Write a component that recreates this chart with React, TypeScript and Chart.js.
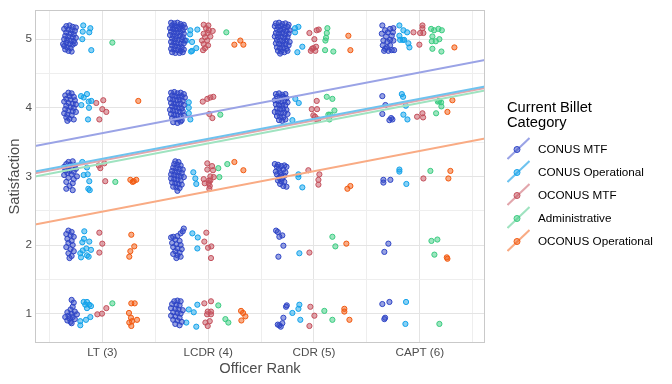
import React, { useEffect, useRef } from "react";
import { Chart, registerables } from "chart.js";

Chart.register(...registerables);

// ---------- data ----------
const rankValues = [3, 4, 5, 6];
const rankLabels = ["LT (3)", "LCDR (4)", "CDR (5)", "CAPT (6)"];
const xGridBreaks = [2.5, 3, 3.5, 4, 4.5, 5, 5.5, 6, 6.5];
const yGridBreaks = [1, 1.5, 2, 2.5, 3, 3.5, 4, 4.5, 5];
const xRange = [2.364, 6.616];
const yRange = [0.572, 5.425];

const categoryNames = ["CONUS MTF", "CONUS Operational", "OCONUS MTF", "Administrative", "OCONUS Operational"];
const pointColors = ["#2f45c6", "#12a2ea", "#c4505c", "#3acb80", "#f25a10"];
const lineColors = ["#9aa3e6", "#6ec3ef", "#e2a6ac", "#9fe3c0", "#f9ab84"];

type Pt = [number, number];

const conusMtf: Pt[] = [
  // LT
  [2.66,5.19],[2.69,5.20],[2.72,5.18],[2.75,5.17],[2.64,5.15],[2.68,5.14],[2.71,5.13],[2.74,5.12],[2.66,5.10],[2.70,5.08],[2.73,5.07],[2.65,5.05],[2.68,5.04],[2.72,5.03],[2.75,5.02],[2.64,5.00],[2.67,4.99],[2.70,4.98],[2.73,4.97],[2.66,4.95],[2.69,4.93],[2.72,4.92],[2.64,4.90],[2.67,4.88],[2.70,4.87],[2.65,4.85],[2.68,4.83],[2.71,4.82],[2.63,4.93],[2.74,4.94],
  [2.68,4.22],[2.71,4.21],[2.65,4.18],[2.69,4.17],[2.73,4.16],[2.66,4.13],[2.70,4.12],[2.74,4.11],[2.64,4.09],[2.68,4.07],[2.72,4.06],[2.75,4.05],[2.66,4.03],[2.70,4.01],[2.73,4.00],[2.65,3.98],[2.68,3.96],[2.72,3.95],[2.75,3.94],[2.64,3.92],[2.67,3.90],[2.71,3.89],[2.66,3.86],[2.69,3.84],[2.73,3.83],[2.67,3.81],
  [2.68,3.21],[2.72,3.22],[2.66,3.18],[2.70,3.17],[2.74,3.16],[2.64,3.14],[2.68,3.13],[2.71,3.12],[2.75,3.11],[2.65,3.09],[2.69,3.08],[2.73,3.07],[2.67,3.05],[2.71,3.03],[2.64,3.02],[2.76,3.00],[2.68,2.98],[2.73,2.96],[2.66,2.92],[2.72,2.90],[2.69,2.86],[2.66,2.82],[2.72,2.80],
  [2.68,2.21],[2.71,2.19],[2.66,2.16],[2.70,2.14],[2.73,2.12],[2.67,2.09],[2.71,2.06],[2.68,2.03],[2.72,2.00],[2.66,1.97],[2.70,1.94],[2.73,1.91],[2.68,1.88],[2.71,1.84],[2.69,1.81],
  [2.71,1.20],[2.73,1.16],[2.72,1.10],[2.70,1.06],[2.74,1.03],[2.67,1.02],[2.71,1.00],[2.76,0.99],[2.68,0.97],[2.65,0.95],[2.72,0.95],[2.69,0.93],[2.74,0.92],[2.67,0.90],[2.70,0.88],[2.71,0.86],
  // LCDR
  [3.65,5.24],[3.68,5.23],[3.71,5.24],[3.74,5.22],[3.77,5.21],[3.66,5.20],[3.69,5.19],[3.72,5.18],[3.75,5.19],[3.78,5.17],[3.64,5.16],[3.67,5.15],[3.70,5.14],[3.73,5.15],[3.76,5.13],[3.65,5.11],[3.68,5.10],[3.71,5.09],[3.74,5.10],[3.77,5.08],[3.64,5.06],[3.67,5.05],[3.70,5.04],[3.73,5.05],[3.76,5.03],[3.66,5.01],[3.69,5.00],[3.72,4.99],[3.75,5.00],[3.78,4.98],[3.65,4.96],[3.68,4.95],[3.71,4.94],[3.74,4.93],[3.77,4.94],[3.66,4.91],[3.69,4.90],[3.72,4.89],[3.75,4.88],[3.65,4.86],[3.68,4.85],[3.71,4.84],[3.74,4.83],[3.77,4.85],[3.66,4.81],[3.69,4.80],[3.73,4.80],[3.76,4.81],
  [3.65,4.22],[3.68,4.23],[3.71,4.21],[3.74,4.22],[3.77,4.20],[3.66,4.18],[3.69,4.17],[3.72,4.16],[3.75,4.17],[3.78,4.15],[3.64,4.13],[3.67,4.12],[3.70,4.11],[3.73,4.12],[3.76,4.10],[3.65,4.07],[3.68,4.06],[3.71,4.05],[3.74,4.06],[3.77,4.04],[3.66,4.02],[3.69,4.01],[3.72,4.00],[3.75,3.99],[3.64,3.97],[3.67,3.96],[3.70,3.95],[3.73,3.94],[3.76,3.95],[3.65,3.91],[3.68,3.90],[3.71,3.89],[3.74,3.88],[3.77,3.89],[3.66,3.85],[3.69,3.84],[3.72,3.83],[3.75,3.82],[3.67,3.79],[3.71,3.78],[3.74,3.80],
  [3.69,3.22],[3.72,3.21],[3.68,3.18],[3.71,3.17],[3.74,3.16],[3.67,3.13],[3.70,3.12],[3.73,3.11],[3.76,3.10],[3.66,3.08],[3.69,3.07],[3.72,3.06],[3.75,3.05],[3.65,3.03],[3.68,3.02],[3.71,3.01],[3.74,3.00],[3.77,2.99],[3.65,2.97],[3.68,2.96],[3.71,2.95],[3.74,2.94],[3.66,2.91],[3.69,2.90],[3.72,2.89],[3.75,2.88],[3.67,2.85],[3.70,2.84],[3.73,2.83],[3.71,2.79],
  [3.77,2.24],[3.76,2.20],[3.74,2.17],[3.71,2.13],[3.67,2.12],[3.65,2.11],[3.69,2.08],[3.73,2.06],[3.66,2.03],[3.70,2.01],[3.74,2.00],[3.67,1.97],[3.71,1.95],[3.75,1.94],[3.69,1.91],[3.73,1.89],[3.67,1.87],[3.71,1.85],[3.74,1.83],[3.70,1.81],
  [3.68,1.18],[3.71,1.19],[3.74,1.18],[3.66,1.14],[3.70,1.13],[3.73,1.12],[3.65,1.08],[3.69,1.07],[3.72,1.06],[3.76,1.05],[3.67,1.02],[3.71,1.01],[3.74,1.00],[3.65,0.97],[3.69,0.96],[3.73,0.94],[3.67,0.91],[3.71,0.90],[3.75,0.88],[3.69,0.85],[3.73,0.83],
  // CDR
  [4.64,5.23],[4.67,5.24],[4.70,5.22],[4.73,5.23],[4.76,5.21],[4.63,5.19],[4.66,5.18],[4.69,5.19],[4.72,5.17],[4.75,5.18],[4.65,5.14],[4.68,5.13],[4.71,5.14],[4.74,5.12],[4.77,5.13],[4.64,5.09],[4.67,5.08],[4.70,5.09],[4.73,5.07],[4.76,5.08],[4.63,5.04],[4.66,5.03],[4.69,5.04],[4.72,5.02],[4.75,5.03],[4.65,4.99],[4.68,4.98],[4.71,4.97],[4.74,4.98],[4.77,4.96],[4.64,4.94],[4.67,4.93],[4.70,4.92],[4.73,4.93],[4.76,4.91],[4.65,4.88],[4.68,4.87],[4.71,4.88],[4.74,4.86],[4.66,4.83],[4.69,4.82],[4.72,4.81],[4.75,4.83],[4.68,4.79],
  [4.64,4.20],[4.67,4.21],[4.70,4.19],[4.73,4.20],[4.65,4.16],[4.68,4.15],[4.71,4.16],[4.74,4.14],[4.63,4.11],[4.66,4.10],[4.69,4.09],[4.72,4.10],[4.75,4.08],[4.64,4.05],[4.67,4.04],[4.70,4.03],[4.73,4.04],[4.65,3.99],[4.68,3.98],[4.71,3.99],[4.74,3.97],[4.63,3.94],[4.66,3.93],[4.69,3.92],[4.72,3.93],[4.75,3.91],[4.65,3.88],[4.68,3.87],[4.71,3.86],[4.67,3.82],[4.70,3.81],[4.73,3.83],
  [4.63,3.18],[4.66,3.17],[4.65,3.14],[4.69,3.15],[4.72,3.16],[4.74,3.14],[4.67,3.11],[4.71,3.10],[4.64,3.07],[4.68,3.06],[4.73,3.06],[4.65,3.03],[4.69,3.02],[4.72,3.01],[4.67,2.98],[4.70,2.97],[4.66,2.94],[4.69,2.93],[4.72,2.92],[4.68,2.89],[4.71,2.86],[4.74,2.85],
  [4.642,2.21],[4.658,2.19],[4.673,2.12],[4.701,2.14],[4.711,1.99],[4.664,1.83],
  [4.743,1.12],[4.736,1.10],[4.711,0.94],[4.658,0.84],[4.686,0.81],[4.701,0.86],[4.673,0.83],
  // CAPT
  [5.646,5.20],[5.672,5.13],[5.719,5.15],[5.750,5.16],[5.641,5.08],[5.698,5.10],[5.681,5.04],[5.735,5.05],[5.656,4.98],[5.719,4.99],[5.750,4.98],[5.694,4.96],[5.650,4.91],[5.719,4.91],[5.672,4.86],[5.735,4.84],[5.703,4.83],[5.757,4.84],[5.663,4.83],[5.688,4.88],[5.745,5.10],
  [5.646,4.17],[5.675,4.04],[5.729,3.85],[5.713,3.82],[5.741,3.83],[5.646,3.91],
  [5.656,2.95],[5.656,2.91],[5.722,2.95],
  [5.703,2.02],[5.665,1.90],
  [5.646,1.14],[5.713,1.17],[5.672,0.94],[5.665,0.92],
];

const conusOps: Pt[] = [
  [2.820,5.20],[2.887,5.16],[2.815,5.11],[2.877,5.10],[2.811,5.00],[2.896,4.84],
  [2.799,4.17],[2.855,4.20],[2.824,4.15],[2.871,4.09],[2.896,4.10],[2.802,4.04],[2.874,4.00],[2.865,3.83],
  [2.811,3.21],[2.855,3.13],[2.824,3.02],[2.862,3.03],[2.877,2.93],[2.868,2.82],[2.881,2.80],
  [2.830,2.20],[2.827,2.09],[2.877,2.05],[2.811,2.04],[2.849,1.95],[2.815,1.92],[2.893,1.93],[2.792,1.88],[2.855,1.85],[2.799,1.82],[2.871,1.83],
  [2.824,1.17],[2.855,1.17],[2.839,1.13],[2.877,1.13],[2.855,1.08],[2.893,1.11],[2.792,0.89],[2.792,0.83],[2.846,0.91],[2.887,0.95],
  [3.832,5.13],[3.898,5.14],[3.829,5.07],[3.794,4.98],[3.848,4.96],[3.888,4.87],[3.848,4.83],[3.838,4.82],
  [3.817,4.08],[3.817,4.00],[3.817,3.92],[3.832,3.83],
  [3.860,3.06],[3.879,2.97],[3.888,2.89],
  [3.851,2.17],[3.902,2.11],[3.898,1.95],
  [3.817,1.06],[3.864,1.02],[3.898,1.13],[3.794,0.87],[3.888,0.81],
  [4.821,5.16],[4.853,5.18],[4.821,5.10],[4.890,4.89],[4.843,4.81],
  [4.824,4.13],[4.856,4.07],[4.796,3.82],
  [4.853,3.03],[4.853,2.99],[4.890,2.84],
  [4.862,1.88],
  [4.862,1.13],[4.853,1.07],[4.796,1.01],[4.871,0.91],
  [5.807,5.20],[5.845,5.13],[5.880,5.10],[5.807,5.05],[5.814,4.99],[5.839,4.99],[5.852,4.99],[5.892,4.94],[5.902,4.88],
  [5.830,4.20],[5.842,4.16],[5.868,4.03],[5.845,3.90],[5.883,3.83],
  [5.807,3.10],[5.807,3.07],[5.873,2.89],
  [5.870,1.17],[5.864,0.85],
];

const oconusMtf: Pt[] = [
  [3.009,4.11],[2.943,4.07],[3.000,3.98],[3.038,3.94],[2.972,3.83],
  [2.966,3.16],[2.981,3.12],[3.019,3.19],[3.028,2.93],
  [2.972,2.18],[3.000,2.02],[2.972,1.89],
  [3.038,1.08],[2.997,1.00],[2.953,0.99],
  [3.958,5.21],[4.002,5.20],[3.980,5.16],[4.043,5.12],[3.996,5.09],[3.958,5.08],[4.021,5.04],[3.971,5.03],[3.942,4.98],[3.990,4.98],[3.958,4.93],[3.999,4.91],[3.971,4.87],[3.952,4.84],[4.006,5.13],
  [3.949,4.09],[3.992,4.13],[4.021,4.15],[4.049,4.16],[4.011,3.91],[4.040,3.85],
  [3.992,3.19],[4.037,3.15],[3.992,3.10],[4.046,3.09],[4.021,3.00],[4.053,2.99],[3.958,2.96],[4.008,2.94],[3.968,2.90],[4.006,2.90],[4.015,2.86],[4.011,2.82],[4.021,2.94],
  [3.983,2.18],[3.964,2.05],[3.999,1.96],[4.030,1.98],[4.027,1.81],
  [3.964,1.15],[4.027,1.18],[3.996,1.03],[4.027,1.03],[3.990,0.99],[4.027,0.99],[3.974,0.87],[4.015,0.89],[3.996,0.82],
  [4.957,5.09],[5.026,5.13],[5.045,5.14],[5.004,5.00],[4.994,4.87],[4.970,4.83],[5.013,4.83],[5.020,4.89],[4.982,4.86],
  [5.026,4.10],[4.979,3.98],[5.029,3.98],[4.994,3.89],[5.026,3.83],[5.041,3.83],[5.010,3.87],
  [4.947,3.09],[5.051,3.03],[5.042,2.95],[5.042,2.88],
  [4.957,1.89],
  [4.966,1.10],[5.004,0.97],[4.957,0.82],
  [6.025,5.20],[6.025,5.16],[5.940,5.10],[6.003,5.09],[6.034,5.09],[5.996,4.92],
  [5.974,3.87],[6.025,3.92],[6.031,3.86],
  [6.034,2.97],
];

const admin: Pt[] = [
  [3.095,4.95],
  [3.123,2.92],
  [3.095,1.15],
  [4.172,5.10],
  [4.115,3.90],
  [4.096,3.12],[4.181,3.18],[4.106,2.99],
  [4.096,1.12],[4.163,0.92],[4.191,0.87],
  [5.127,5.16],[5.121,5.09],[5.114,5.02],[5.108,4.98],[5.105,4.84],[5.183,4.82],
  [5.121,4.16],[5.174,4.13],[5.193,3.96],[5.152,3.90],[5.136,3.90],[5.146,3.83],
  [5.174,2.12],[5.202,1.98],
  [5.098,1.04],[5.174,0.91],
  [6.107,5.15],[6.135,5.13],[6.176,5.15],[6.208,5.13],[6.119,5.04],[6.185,5.00],[6.113,4.97],[6.151,4.97],[6.119,4.86],[6.204,4.82],
  [6.182,4.10],[6.201,4.08],[6.170,4.09],[6.204,4.02],[6.154,3.92],
  [6.100,3.08],
  [6.110,2.06],[6.166,2.08],[6.138,1.86],
  [6.185,0.85],
];

const oconusOps: Pt[] = [
  [3.340,4.10],
  [3.265,2.95],[3.297,2.93],[3.321,2.95],[3.287,2.92],
  [3.274,2.15],[3.302,1.98],[3.265,1.91],[3.255,1.83],
  [3.274,1.15],[3.306,1.15],[3.252,1.01],[3.271,0.94],[3.281,0.89],[3.328,0.91],[3.255,0.87],[3.274,0.82],
  [4.304,4.98],[4.248,4.92],[4.333,4.92],
  [4.248,3.21],[4.333,3.09],
  [4.311,1.04],[4.330,1.01],[4.352,0.96],[4.314,0.90],
  [5.325,5.05],[5.344,4.84],
  [5.316,2.82],[5.344,2.86],
  [5.306,2.02],
  [5.287,1.07],[5.287,1.03],[5.335,0.91],
  [6.327,4.88],
  [6.308,4.11],[6.261,3.94],
  [6.289,3.08],[6.270,2.97],
  [6.255,1.82],[6.261,1.80],
];

// linear fits: values at the left and right edges of the x range
const fitX = [2.364, 6.616];
const conusMtfFit = [3.443, 4.696];
const conusOpsFit = [3.071, 4.311];
const oconusMtfFit = [3.046, 4.287];
const adminFit = [2.999, 4.253];
const oconusOpsFit = [2.300, 3.553];

const pointSeries = [conusMtf, conusOps, oconusMtf, admin, oconusOps];
const fitSeries = [conusMtfFit, conusOpsFit, oconusMtfFit, adminFit, oconusOpsFit];

const FONT = "'Liberation Sans', Arial, sans-serif";

function rgba(hex: string, a: number) {
  const n = parseInt(hex.slice(1), 16);
  return `rgba(${(n >> 16) & 255},${(n >> 8) & 255},${n & 255},${a})`;
}

const panelBorder = {
  id: "panelBorder",
  afterDatasetsDraw(chart: any) {
    const { ctx, chartArea: a } = chart;
    ctx.save();
    ctx.strokeStyle = "#c9c9c9";
    ctx.lineWidth = 1;
    ctx.strokeRect(Math.round(a.left) + 0.5, Math.round(a.top) + 0.5, Math.round(a.right - a.left) - 1, Math.round(a.bottom - a.top) - 1);
    ctx.restore();
  },
};

export default function App() {
  const ref = useRef<HTMLCanvasElement | null>(null);

  useEffect(() => {
    if (!ref.current) return;
    const datasets: any[] = [];
    fitSeries.forEach((f, i) => {
      datasets.push({
        label: categoryNames[i] + " fit",
        data: fitX.map((x, j) => ({ x, y: f[j] })),
        showLine: true,
        borderColor: lineColors[i],
        borderWidth: 2,
        pointRadius: 0,
        fill: false,
        order: 0,
      });
    });
    pointSeries.forEach((s, i) => {
      datasets.push({
        label: categoryNames[i],
        data: s.map(([x, y]) => ({ x, y })),
        showLine: false,
        pointRadius: 2.6,
        pointHoverRadius: 2.6,
        pointBorderWidth: 1,
        borderColor: pointColors[i],
        backgroundColor: rgba(pointColors[i], 0.5),
        pointBorderColor: pointColors[i],
        pointBackgroundColor: rgba(pointColors[i], 0.5),
        order: 1,
      });
    });

    const gridColor = (ctx: any) =>
      ctx.tick && Number.isInteger(ctx.tick.value) ? "#e4e4e4" : "#eeeeee";

    const chart = new Chart(ref.current, {
      type: "scatter",
      data: { datasets },
      options: {
        responsive: false,
        animation: false,
        layout: { padding: { top: 7, right: 187, bottom: 0, left: 0 } },
        plugins: { legend: { display: false }, tooltip: { enabled: false } },
        scales: {
          x: {
            type: "linear",
            min: xRange[0],
            max: xRange[1],
            afterBuildTicks: (axis: any) => {
              axis.ticks = xGridBreaks.map((v) => ({ value: v }));
            },
            afterFit: (axis: any) => {
              axis.height = 41;
            },
            ticks: {
              autoSkip: false,
              maxRotation: 0,
              padding: 3,
              color: "#4d4d4d",
              font: { family: FONT, size: 11.7 },
              callback: (v: any) => {
                const k = rankValues.indexOf(Number(v));
                return k >= 0 ? rankLabels[k] : "";
              },
            },
            grid: { color: gridColor, lineWidth: 1, drawTicks: false },
            border: { display: false },
            title: {
              display: true,
              text: "Officer Rank",
              color: "#4d4d4d",
              font: { family: FONT, size: 14.7 },
              padding: { top: 0, bottom: 6 },
            },
          },
          y: {
            type: "linear",
            min: yRange[0],
            max: yRange[1],
            afterBuildTicks: (axis: any) => {
              axis.ticks = yGridBreaks.map((v) => ({ value: v }));
            },
            afterFit: (axis: any) => {
              axis.width = 35;
            },
            ticks: {
              autoSkip: false,
              padding: 3,
              color: "#4d4d4d",
              font: { family: FONT, size: 11.7 },
              callback: (v: any) => (satisfactionLevels.includes(Number(v)) ? String(v) : ""),
            },
            grid: { color: gridColor, lineWidth: 1, drawTicks: false },
            border: { display: false },
            title: {
              display: true,
              text: "Satisfaction",
              color: "#4d4d4d",
              font: { family: FONT, size: 14.7 },
              padding: { top: 6, bottom: 0 },
            },
          },
        },
      },
      plugins: [panelBorder],
    } as any);
    return () => chart.destroy();
  }, []);

  return (
    <div style={{ position: "absolute", left: 0, top: 0, width: 672, height: 384, background: "#fff", fontFamily: FONT }}>
      <canvas ref={ref} width={672} height={384} style={{ display: "block" }} />
      <div style={{ position: "absolute", left: 507, top: 100, fontSize: "14.7px", lineHeight: "14.7px", color: "#000" }}>
        Current Billet<br />Category
      </div>
      {categoryNames.map((name, i) => {
        const cy = 148 + i * 23.2;
        return (
          <div key={name} style={{ position: "absolute", left: 507, top: cy - 11.5, height: 23, width: 165 }}>
            <svg width={23} height={23} style={{ position: "absolute", left: 0, top: 0 }}>
              <line x1={0.5} y1={22} x2={22.5} y2={1} stroke={lineColors[i]} strokeWidth={2} />
              <circle cx={10} cy={12.5} r={3} fill={rgba(pointColors[i], 0.5)} stroke={pointColors[i]} strokeWidth={1} />
            </svg>
            <span style={{ position: "absolute", left: 31, top: 0, lineHeight: "23px", fontSize: "11.7px", color: "#000", whiteSpace: "nowrap" }}>
              {name}
            </span>
          </div>
        );
      })}
    </div>
  );
}

const satisfactionLevels = [1, 2, 3, 4, 5];
